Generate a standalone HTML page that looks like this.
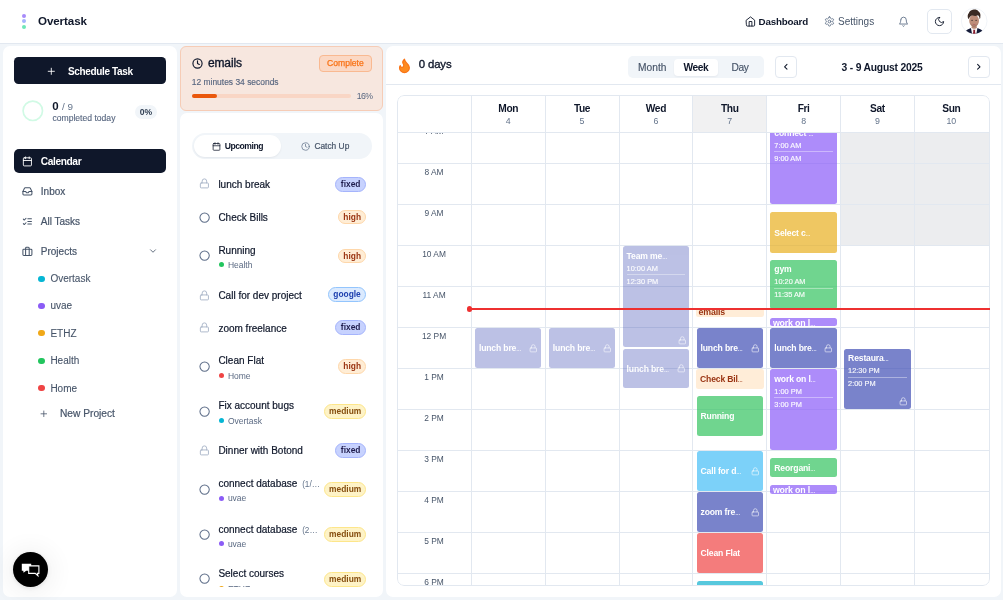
<!DOCTYPE html>
<html lang="en">
<head>
<meta charset="utf-8">
<title>Overtask</title>
<style>
*{box-sizing:border-box;margin:0;padding:0}
html,body{width:1003px;height:600px;overflow:hidden;background:#f1f5f9;font-family:"Liberation Sans",sans-serif;color:#0f172a}
#app{position:relative;width:1003px;height:600px;overflow:hidden;background:#f1f5f9;will-change:transform;transform:translateZ(0)}
.abs{position:absolute}
.t{position:absolute;white-space:nowrap;line-height:1}
svg{display:block;overflow:visible}
.ic{position:absolute;fill:none;stroke:currentColor;stroke-width:2;stroke-linecap:round;stroke-linejoin:round}
.card{position:absolute;background:#fff;border-radius:7px}
/* header */
#hdr{position:absolute;left:0;top:0;width:1003px;height:44px;background:#fff;border-bottom:1px solid #e2e8f0}
/* sidebar */
.navtxt{color:#475569;font-size:10px}
.proj{color:#475569;font-size:10px;margin-top:.4px;-webkit-text-stroke:.1px #475569}
.dot{position:absolute;border-radius:50%}
/* tasks */
.tk{font-size:10px;color:#0f172a;-webkit-text-stroke:.2px #0f172a;margin-top:1px}
.sub{font-size:8.5px;color:#5b6a83;margin-top:.8px}
.pill{position:absolute;border-radius:8px;border:1px solid;font-size:8.4px;font-weight:700;text-align:center;white-space:nowrap}
.pill.fixed{background:#c7d2fe;border-color:#a5b4fc;color:#1e1b4b}
.pill.high{background:#ffedd5;border-color:#fed7aa;color:#9a3412}
.pill.google{background:#dbeafe;border-color:#93c5fd;color:#1e40af}
.pill.medium{background:#fef3c7;border-color:#fde68a;color:#854d0e}
.lk{color:#aab6c9;stroke-width:2.1}
.cir{color:#5d6d88;stroke-width:2.2}

/*CALCSS*/
.ev{position:absolute;border-radius:2.500px;overflow:hidden}
.et{font-size:8.600px;font-weight:700;letter-spacing:-.15px}
.em{font-size:7.400px;opacity:.95;-webkit-text-stroke:.15px currentColor}
.el{font-size:58%;letter-spacing:-.2px}
.hlab{text-align:center;font-size:8.400px;color:#475569}
.dh{text-align:center;font-size:10.200px;font-weight:700;letter-spacing:-.4px}
.dn{text-align:center;font-size:8.800px;color:#64748b}
/*ENDCALCSS*/</style>
</head>
<body>
<div id="app">

<!-- ================= HEADER ================= -->
<div id="hdr">
  <div class="dot" style="left:22px;top:13.6px;width:4px;height:4px;background:#a78bfa"></div>
  <div class="dot" style="left:21.800px;top:18.800px;width:4.400px;height:4.400px;background:#a5b4fc"></div>
  <div class="dot" style="left:22px;top:24.8px;width:4px;height:4px;background:#6ee7b7"></div>
  <div class="t" id="brand" style="left:38px;top:15.4px;font-size:11.6px;font-weight:700;letter-spacing:-.1px">Overtask</div>

  <svg class="ic" viewBox="0 0 24 24" style="left:744.5px;top:15.6px;width:11px;height:11px;color:#0f172a"><path d="m3 9 9-7 9 7v11a2 2 0 0 1-2 2H5a2 2 0 0 1-2-2z"/><polyline points="9 22 9 12 15 12 15 22"/></svg>
  <div class="t" id="dash" style="left:758.6px;top:16.6px;font-size:9.8px;font-weight:700;letter-spacing:-.2px">Dashboard</div>
  <svg class="ic" viewBox="0 0 24 24" style="left:824px;top:15.8px;width:11px;height:11px;color:#64748b"><path d="M12.22 2h-.44a2 2 0 0 0-2 2v.18a2 2 0 0 1-1 1.73l-.43.25a2 2 0 0 1-2 0l-.15-.08a2 2 0 0 0-2.73.73l-.22.38a2 2 0 0 0 .73 2.73l.15.1a2 2 0 0 1 1 1.72v.51a2 2 0 0 1-1 1.74l-.15.09a2 2 0 0 0-.73 2.73l.22.38a2 2 0 0 0 2.73.73l.15-.08a2 2 0 0 1 2 0l.43.25a2 2 0 0 1 1 1.73V20a2 2 0 0 0 2 2h.44a2 2 0 0 0 2-2v-.18a2 2 0 0 1 1-1.73l.43-.25a2 2 0 0 1 2 0l.15.08a2 2 0 0 0 2.73-.73l.22-.39a2 2 0 0 0-.73-2.73l-.15-.08a2 2 0 0 1-1-1.74v-.5a2 2 0 0 1 1-1.74l.15-.09a2 2 0 0 0 .73-2.73l-.22-.38a2 2 0 0 0-2.73-.73l-.15.08a2 2 0 0 1-2 0l-.43-.25a2 2 0 0 1-1-1.73V4a2 2 0 0 0-2-2z"/><circle cx="12" cy="12" r="3"/></svg>
  <div class="t" id="sett" style="left:838px;top:16.6px;font-size:10px;color:#475569">Settings</div>
  <svg class="ic" viewBox="0 0 24 24" style="left:898.3px;top:15.6px;width:11px;height:11.5px;color:#64748b"><path d="M6 8a6 6 0 0 1 12 0c0 7 3 9 3 9H3s3-2 3-9"/><path d="M10.3 21a1.94 1.94 0 0 0 3.4 0"/></svg>
  <div class="abs" style="left:927px;top:9px;width:24.5px;height:24.5px;border:1px solid #e2e8f0;border-radius:5px;background:#fff"></div>
  <svg class="ic" viewBox="0 0 24 24" style="left:933.6px;top:15.8px;width:11px;height:11px;color:#0f172a"><path d="M12 3a6 6 0 0 0 9 9 9 9 0 1 1-9-9Z"/></svg>
  <!-- avatar -->
  <svg class="abs" viewBox="0 0 52 52" style="left:961.400px;top:8.200px;width:26.400px;height:26.200px">
    <defs><clipPath id="avc"><circle cx="26" cy="26" r="25"/></clipPath></defs>
    <circle cx="26" cy="26" r="25.500" fill="#fff" stroke="#e2e8f0" stroke-width="1"/>
    <g clip-path="url(#avc)">
      <path d="M7 54c.5-7 3-11 8-12.500l6-2.500h10l6 2.500c5 1.500 7.500 5.500 8 12.500z" fill="#141b38"/>
      <path d="M19.500 39.500l6.500-1.500 6.500 1.500-2.500 13h-8z" fill="#fbfaf8"/>
      <path d="M23.800 43.200h4.400l-.6 2.600 1.200 7h-5.600l1.200-7z" fill="#8a1c2e"/>
      <path d="M21 31h10v8.500c-2 2.200-8 2.200-10 0z" fill="#b98873"/>
      <ellipse cx="25.800" cy="25.500" rx="9.700" ry="12" fill="#bd8e7a"/>
      <path d="M18 30c1.500 5 4.500 7.600 7.800 7.600s6.300-2.600 7.800-7.600c-1.600 3-4.400 4.600-7.800 4.600S19.600 33 18 30z" fill="#8d6757" opacity=".55"/>
      <ellipse cx="21.800" cy="24.200" rx="1.900" ry="1" fill="#4a3a36"/>
      <ellipse cx="29.900" cy="24.200" rx="1.900" ry="1" fill="#4a3a36"/>
      <path d="M23.600 32.600q2.200 1 4.400 0" stroke="#a8545a" stroke-width="1.200" fill="none" stroke-linecap="round"/>
      <path d="M14.600 22.500c-2.400-4.500-1.800-9.500.8-12.400 1-3.400 4.600-6.400 9.600-6.900 3.800-.5 7.600.8 9.800 3.600 3 2 4.400 6 3.400 10.200.4 2.400-.4 4.200-1.400 5.500.2-3.600-1.200-6.400-3.200-8-2.800 1.400-6.800 1.600-10 .6-2.600-.2-5 1.200-6.600 3.400-.9 1.200-1.700 2.400-2.400 4z" fill="#3a2a23"/>
    </g>
  </svg>
</div>

<!-- ================= SIDEBAR ================= -->
<div class="card" id="side" style="left:2.600px;top:46px;width:174.400px;height:551px"></div>
<div class="abs" style="left:13.600px;top:57.200px;width:152.600px;height:27px;border-radius:4.500px;background:#0f172a"></div>
<svg class="ic" viewBox="0 0 24 24" style="left:45.800px;top:65.600px;width:10.600px;height:10.600px;color:#fff"><path d="M5 12h14"/><path d="M12 5v14"/></svg>
<div class="t" id="sched" style="left:68px;top:66.500px;font-size:10px;font-weight:700;color:#fff;letter-spacing:-.36px">Schedule Task</div>

<svg class="abs" viewBox="0 0 22 22" style="left:22.200px;top:100.200px;width:21.600px;height:21.600px"><circle cx="11" cy="11" r="9.900" fill="none" stroke="#d1fae5" stroke-width="1.700"/></svg>
<div class="t" id="cnt0" style="left:52.300px;top:100.800px;font-size:11.500px;font-weight:700">0</div>
<div class="t" id="cnt9" style="left:62px;top:101.800px;font-size:9.900px;color:#64748b">/ 9</div>
<div class="t" id="ctoday" style="left:52.400px;top:113.800px;font-size:8.600px;color:#586780;-webkit-text-stroke:.12px #586780">completed today</div>
<div class="abs" style="left:135px;top:105px;width:22.400px;height:14.200px;border-radius:7.100px;background:#f1f5f9"></div>
<div class="t" id="pct0" style="left:139.800px;top:108.200px;font-size:8.600px;font-weight:700;color:#334155;letter-spacing:-.1px">0%</div>

<div class="abs" style="left:13.600px;top:149px;width:152.600px;height:24.200px;border-radius:5px;background:#0f172a"></div>
<svg class="ic" viewBox="0 0 24 24" style="left:21.600px;top:155.600px;width:10.800px;height:10.800px;color:#fff"><path d="M8 2v4"/><path d="M16 2v4"/><rect width="18" height="18" x="3" y="4" rx="2"/><path d="M3 10h18"/></svg>
<div class="t" id="ncal" style="left:40.800px;top:156.600px;font-size:10.200px;font-weight:700;color:#fff;letter-spacing:-.4px">Calendar</div>

<svg class="ic" viewBox="0 0 24 24" style="left:21.600px;top:185.600px;width:10.800px;height:10.800px;color:#475569;stroke-width:2.300"><polyline points="22 12 16 12 14 15 10 15 8 12 2 12"/><path d="M5.450 5.110 2 12v6a2 2 0 0 0 2 2h16a2 2 0 0 0 2-2v-6l-3.450-6.890A2 2 0 0 0 16.760 4H7.240a2 2 0 0 0-1.790 1.110z"/></svg>
<div class="t navtxt" id="ninb" style="left:40.800px;top:186.600px;-webkit-text-stroke:.2px #475569">Inbox</div>

<svg class="ic" viewBox="0 0 24 24" style="left:21.600px;top:215.600px;width:10.800px;height:10.800px;color:#475569;stroke-width:2.300"><path d="m3 17 2 2 4-4"/><path d="m3 7 2 2 4-4"/><path d="M13 6h8"/><path d="M13 12h8"/><path d="M13 18h8"/></svg>
<div class="t navtxt" id="nall" style="left:40.800px;top:217px;-webkit-text-stroke:.2px #475569">All Tasks</div>

<svg class="ic" viewBox="0 0 24 24" style="left:21.600px;top:245.600px;width:10.800px;height:10.800px;color:#475569;stroke-width:2.300"><rect width="20" height="14" x="2" y="7" rx="2" ry="2"/><path d="M16 21V5a2 2 0 0 0-2-2h-4a2 2 0 0 0-2 2v16"/></svg>
<div class="t navtxt" id="nprj" style="left:40.800px;top:247.300px;-webkit-text-stroke:.2px #475569">Projects</div>
<svg class="ic" viewBox="0 0 24 24" style="left:148px;top:246px;width:10px;height:10px;color:#475569"><path d="m6 9 6 6 6-6"/></svg>

<div class="dot" style="left:38.400px;top:275.600px;width:6.200px;height:6.200px;background:#06b6d4"></div>
<div class="t proj" style="left:50.400px;top:274px">Overtask</div>
<div class="dot" style="left:38.400px;top:302.600px;width:6.200px;height:6.200px;background:#8b5cf6"></div>
<div class="t proj" style="left:50.400px;top:301px">uvae</div>
<div class="dot" style="left:38.400px;top:330.100px;width:6.200px;height:6.200px;background:#f0a818"></div>
<div class="t proj" style="left:50.400px;top:328.600px">ETHZ</div>
<div class="dot" style="left:38.400px;top:357.500px;width:6.200px;height:6.200px;background:#22c55e"></div>
<div class="t proj" style="left:50.400px;top:356px">Health</div>
<div class="dot" style="left:38.400px;top:384.900px;width:6.200px;height:6.200px;background:#ef4444"></div>
<div class="t proj" style="left:50.400px;top:383.200px">Home</div>
<svg class="ic" viewBox="0 0 24 24" style="left:38.800px;top:408.600px;width:9.600px;height:9.600px;color:#475569"><path d="M5 12h14"/><path d="M12 5v14"/></svg>
<div class="t proj" id="newp" style="left:60px;top:408.600px;font-size:10.200px;-webkit-text-stroke:.2px #475569">New Project</div>

<!-- chat bubble -->
<div class="abs" style="left:13px;top:551.700px;width:35.300px;height:35.300px;border-radius:50%;background:#000;box-shadow:0 2px 22px 8px rgba(0,0,0,.045),0 1px 4px rgba(0,0,0,.10)"></div>
<svg class="abs" viewBox="0 0 22 16" style="left:20px;top:562px;width:22px;height:16px">
  <path d="M1.800 1.800h9.400v7H6.200L3.500 10.800 3.300 8.800H1.800z" fill="#fff"/>
  <path d="M8.700 3.900h10.200v7.500h-1.500l.5 2.300-2.700-2.300H8.700z" fill="#000" stroke="#fff" stroke-width="1.100" stroke-linejoin="miter"/>
</svg>

<!-- ================= MIDDLE: current task ================= -->
<div class="abs" id="cur" style="left:180.300px;top:46px;width:202.500px;height:64.600px;border-radius:6px;background:#f7e7df;border:1px solid #f6ccb6"></div>
<svg class="ic" viewBox="0 0 24 24" style="left:191.600px;top:58.200px;width:11px;height:11px;color:#0f172a;stroke-width:2.500"><circle cx="12" cy="12" r="10"/><polyline points="12 6 12 12 16 14"/></svg>
<div class="t" id="curt" style="left:208px;top:57px;font-size:12px;-webkit-text-stroke:.35px #0f172a;letter-spacing:-.15px">emails</div>
<div class="abs" style="left:319px;top:55.300px;width:52.800px;height:16.600px;border-radius:4px;background:#fbd8c4;border:1px solid #f9b991"></div>
<div class="t" id="cmpl" style="left:327px;top:59.400px;font-size:8.600px;color:#f97316;-webkit-text-stroke:.25px #f97316">Complete</div>
<div class="t" id="curs" style="left:191.800px;top:78.400px;font-size:8.450px;color:#586780;-webkit-text-stroke:.15px #586780">12 minutes 34 seconds</div>
<div class="abs" style="left:191.800px;top:94.400px;width:159.200px;height:4px;border-radius:2px;background:#f9d6c5"></div>
<div class="abs" style="left:191.800px;top:94.400px;width:25.400px;height:4px;border-radius:2px;background:#ea580c"></div>
<div class="t" id="p16" style="left:356.800px;top:91.800px;font-size:8.700px;color:#586780;letter-spacing:-.55px">16%</div>

<!-- ================= MIDDLE: task list ================= -->
<div class="card" id="tl" style="left:180.300px;top:113px;width:203px;height:484px"></div>
<div class="abs" style="left:191.800px;top:132.800px;width:180.400px;height:26.600px;border-radius:13.300px;background:#f1f5f9"></div>
<div class="abs" style="left:193.700px;top:135px;width:87.800px;height:22.200px;border-radius:11.100px;background:#fff;box-shadow:0 1px 2px rgba(15,23,42,.06)"></div>
<svg class="ic" viewBox="0 0 24 24" style="left:211.600px;top:141.600px;width:9px;height:9px;color:#0f172a"><path d="M8 2v4"/><path d="M16 2v4"/><rect width="18" height="18" x="3" y="4" rx="2"/><path d="M3 10h18"/></svg>
<div class="t" id="tup" style="left:224.700px;top:141.800px;font-size:8.600px;font-weight:700;letter-spacing:-.45px">Upcoming</div>
<svg class="ic" viewBox="0 0 24 24" style="left:301px;top:141.600px;width:9px;height:9px;color:#64748b"><circle cx="12" cy="12" r="10"/><polyline points="12 6 12 12 16 14"/></svg>
<div class="t" id="tcu" style="left:314.400px;top:141.800px;font-size:8.400px;color:#475569;-webkit-text-stroke:.2px #475569">Catch Up</div>

<div id="rows" class="abs" style="left:180.300px;top:113px;width:203px;height:473.700px;overflow:hidden">
<div class="abs" style="left:-180.300px;top:-113px;width:1003px;height:600px">

<svg class="ic lk" viewBox="0 0 24 24" style="left:199.100px;top:178.300px;width:10.800px;height:10.800px"><rect width="18" height="11" x="3" y="11" rx="2" ry="2"/><path d="M7 11V7a5 5 0 0 1 10 0v4"/></svg>
<div class="t tk" style="left:218.400px;top:179.400px">lunch break</div>
<div class="pill fixed" style="left:334.800px;top:176.800px;width:31.700px;height:15.100px;line-height:13.100px">fixed</div>

<svg class="ic cir" viewBox="0 0 24 24" style="left:199.300px;top:211.500px;width:11.200px;height:11.200px"><circle cx="12" cy="12" r="10"/></svg>
<div class="t tk" style="left:218.400px;top:212.300px">Check Bills</div>
<div class="pill high" style="left:337.900px;top:209.600px;width:28.600px;height:14.800px;line-height:12.900px">high</div>

<svg class="ic cir" viewBox="0 0 24 24" style="left:199.300px;top:250.400px;width:11.200px;height:11.200px"><circle cx="12" cy="12" r="10"/></svg>
<div class="t tk" style="left:218.400px;top:244.800px">Running</div>
<div class="dot" style="left:218.500px;top:262.100px;width:5px;height:5px;background:#22c55e"></div>
<div class="t sub" style="left:227.900px;top:260.300px">Health</div>
<div class="pill high" style="left:337.900px;top:248.600px;width:28.600px;height:14.800px;line-height:12.900px">high</div>

<svg class="ic lk" viewBox="0 0 24 24" style="left:199.100px;top:289.600px;width:10.800px;height:10.800px"><rect width="18" height="11" x="3" y="11" rx="2" ry="2"/><path d="M7 11V7a5 5 0 0 1 10 0v4"/></svg>
<div class="t tk" style="left:218.400px;top:289.900px">Call for dev project</div>
<div class="pill google" style="left:327.600px;top:287.300px;width:38.900px;height:15.100px;line-height:13.100px">google</div>

<svg class="ic lk" viewBox="0 0 24 24" style="left:199.100px;top:322.300px;width:10.800px;height:10.800px"><rect width="18" height="11" x="3" y="11" rx="2" ry="2"/><path d="M7 11V7a5 5 0 0 1 10 0v4"/></svg>
<div class="t tk" style="left:218.400px;top:322.800px">zoom freelance</div>
<div class="pill fixed" style="left:334.800px;top:319.900px;width:31.700px;height:15.100px;line-height:13.100px">fixed</div>

<svg class="ic cir" viewBox="0 0 24 24" style="left:199.300px;top:360.900px;width:11.200px;height:11.200px"><circle cx="12" cy="12" r="10"/></svg>
<div class="t tk" style="left:218.400px;top:355.400px">Clean Flat</div>
<div class="dot" style="left:218.500px;top:372.900px;width:5px;height:5px;background:#ef4444"></div>
<div class="t sub" style="left:227.900px;top:371.100px">Home</div>
<div class="pill high" style="left:337.900px;top:359px;width:28.600px;height:14.800px;line-height:12.900px">high</div>

<svg class="ic cir" viewBox="0 0 24 24" style="left:199.300px;top:406.000px;width:11.200px;height:11.200px"><circle cx="12" cy="12" r="10"/></svg>
<div class="t tk" style="left:218.400px;top:400.300px">Fix account bugs</div>
<div class="dot" style="left:218.500px;top:417.900px;width:5px;height:5px;background:#06b6d4"></div>
<div class="t sub" style="left:227.900px;top:416px">Overtask</div>
<div class="pill medium" style="left:323.800px;top:404.300px;width:42.700px;height:14.800px;line-height:12.900px">medium</div>

<svg class="ic lk" viewBox="0 0 24 24" style="left:199.100px;top:445.300px;width:10.800px;height:10.800px"><rect width="18" height="11" x="3" y="11" rx="2" ry="2"/><path d="M7 11V7a5 5 0 0 1 10 0v4"/></svg>
<div class="t tk" style="left:218.400px;top:445.400px">Dinner with Botond</div>
<div class="pill fixed" style="left:334.800px;top:443px;width:31.700px;height:15.100px;line-height:13.100px">fixed</div>

<svg class="ic cir" viewBox="0 0 24 24" style="left:199.300px;top:483.600px;width:11.200px;height:11.200px"><circle cx="12" cy="12" r="10"/></svg>
<div class="t tk" style="left:218.400px;top:478.400px">connect database <span style="font-size:8.200px;color:#64748b;-webkit-text-stroke:0;margin-left:2px">(1/…</span></div>
<div class="dot" style="left:218.500px;top:495.700px;width:5px;height:5px;background:#8b5cf6"></div>
<div class="t sub" style="left:227.900px;top:493.600px">uvae</div>
<div class="pill medium" style="left:323.800px;top:481.900px;width:42.700px;height:14.800px;line-height:12.900px">medium</div>

<svg class="ic cir" viewBox="0 0 24 24" style="left:199.300px;top:528.800px;width:11.200px;height:11.200px"><circle cx="12" cy="12" r="10"/></svg>
<div class="t tk" style="left:218.400px;top:523.600px">connect database <span style="font-size:8.200px;color:#64748b;-webkit-text-stroke:0;margin-left:2px">(2…</span></div>
<div class="dot" style="left:218.500px;top:540.900px;width:5px;height:5px;background:#8b5cf6"></div>
<div class="t sub" style="left:227.900px;top:538.900px">uvae</div>
<div class="pill medium" style="left:323.800px;top:527.100px;width:42.700px;height:14.800px;line-height:12.900px">medium</div>

<svg class="ic cir" viewBox="0 0 24 24" style="left:199.300px;top:573.400px;width:11.200px;height:11.200px"><circle cx="12" cy="12" r="10"/></svg>
<div class="t tk" style="left:218.400px;top:568.300px">Select courses</div>
<div class="dot" style="left:218.500px;top:585.800px;width:5px;height:5px;background:#f0a818"></div>
<div class="t sub" style="left:227.900px;top:583.800px">ETHZ</div>
<div class="pill medium" style="left:323.800px;top:572.300px;width:42.700px;height:14.800px;line-height:12.900px">medium</div>

</div>
</div>

<!--MIDDLE-->
<!-- ================= CALENDAR ================= -->
<div class="card" id="calcard" style="left:386px;top:46px;width:615px;height:551px"></div>
<div class="abs" style="left:386px;top:83.600px;width:615px;height:1px;background:#e2e8f0"></div>
<svg class="abs" viewBox="0 0 24 24" preserveAspectRatio="none" style="left:396.200px;top:56.500px;width:16.900px;height:17.100px"><path d="M8.500 14.500A2.500 2.500 0 0 0 11 12c0-1.380-.5-2-1-3-1.072-2.143-.224-4.054 2-6 .5 2.500 2 4.900 4 6.500 2 1.600 3 3.500 3 5.500a7 7 0 1 1-14 0c0-1.153.433-2.294 1-3a2.500 2.500 0 0 0 2.500 2.500z" fill="#fd8b20" stroke="#f97316" stroke-width="1.600" stroke-linejoin="round"/></svg>
<div class="t" id="days" style="left:418.800px;top:59px;font-size:11.400px;-webkit-text-stroke:.35px #0f172a;letter-spacing:-.15px">0 days</div>
<div class="abs" style="left:628px;top:56.400px;width:136px;height:21.300px;border-radius:5px;background:#f1f5f9"></div>
<div class="abs" style="left:674px;top:59px;width:44px;height:16.600px;border-radius:4px;background:#fff;box-shadow:0 1px 2px rgba(15,23,42,.05)"></div>
<div class="t" id="vm" style="left:638px;top:63.200px;font-size:10.200px;color:#475569;letter-spacing:.05px;-webkit-text-stroke:.15px #475569">Month</div>
<div class="t" id="vw" style="left:683.500px;top:63.200px;font-size:10.200px;font-weight:700;letter-spacing:-.45px">Week</div>
<div class="t" id="vd" style="left:731.400px;top:63.200px;font-size:10.200px;color:#475569;letter-spacing:-.3px;-webkit-text-stroke:.15px #475569">Day</div>
<div class="abs" style="left:775.400px;top:56.400px;width:21.300px;height:21.300px;border-radius:4px;background:#fff;border:1px solid #e2e8f0"></div>
<svg class="ic" viewBox="0 0 24 24" style="left:781.200px;top:62.200px;width:9.600px;height:9.600px;color:#0f172a;stroke-width:2.600"><path d="m15 18-6-6 6-6"/></svg>
<div class="t" id="rng" style="left:841.600px;top:63px;font-size:10.300px;font-weight:700;letter-spacing:-.2px">3 - 9 August 2025</div>
<div class="abs" style="left:968px;top:56.400px;width:21.600px;height:21.300px;border-radius:4px;background:#fff;border:1px solid #e2e8f0"></div>
<svg class="ic" viewBox="0 0 24 24" style="left:973.800px;top:62.200px;width:9.600px;height:9.600px;color:#0f172a;stroke-width:2.600"><path d="m9 18 6-6-6-6"/></svg>
<div id="grid" class="abs" style="left:396.8px;top:95.2px;width:592.9px;height:490.8px;border-radius:7px;overflow:hidden;background:#fff">
<div class="abs" style="left:-396.8px;top:-95.2px;width:1003px;height:600px">
<div class="abs" id="gbody" style="left:0;top:132.0px;width:1003px;height:468.0px;overflow:hidden"><div class="abs" style="left:0;top:-132.0px;width:1003px;height:600px">
<div class="abs" style="left:840.5px;top:132.0px;width:149.2px;height:113.2px;background:#ecedef"></div>
<div class="abs hl" style="left:396.8px;top:121.7px;width:592.9px;height:1px;background:#e2e8f0"></div>
<div class="abs hl" style="left:396.8px;top:162.7px;width:592.9px;height:1px;background:#e2e8f0"></div>
<div class="abs hl" style="left:396.8px;top:203.7px;width:592.9px;height:1px;background:#e2e8f0"></div>
<div class="abs hl" style="left:396.8px;top:244.7px;width:592.9px;height:1px;background:#e2e8f0"></div>
<div class="abs hl" style="left:396.8px;top:285.7px;width:592.9px;height:1px;background:#e2e8f0"></div>
<div class="abs hl" style="left:396.8px;top:326.7px;width:592.9px;height:1px;background:#e2e8f0"></div>
<div class="abs hl" style="left:396.8px;top:367.7px;width:592.9px;height:1px;background:#e2e8f0"></div>
<div class="abs hl" style="left:396.8px;top:408.7px;width:592.9px;height:1px;background:#e2e8f0"></div>
<div class="abs hl" style="left:396.8px;top:449.7px;width:592.9px;height:1px;background:#e2e8f0"></div>
<div class="abs hl" style="left:396.8px;top:490.7px;width:592.9px;height:1px;background:#e2e8f0"></div>
<div class="abs hl" style="left:396.8px;top:531.7px;width:592.9px;height:1px;background:#e2e8f0"></div>
<div class="abs hl" style="left:396.8px;top:572.7px;width:592.9px;height:1px;background:#e2e8f0"></div>
<div class="abs" style="left:470.8px;top:95.2px;width:1px;height:490.8px;background:#e2e8f0"></div>
<div class="abs" style="left:544.6px;top:95.2px;width:1px;height:490.8px;background:#e2e8f0"></div>
<div class="abs" style="left:618.5px;top:95.2px;width:1px;height:490.8px;background:#e2e8f0"></div>
<div class="abs" style="left:692.4px;top:95.2px;width:1px;height:490.8px;background:#e2e8f0"></div>
<div class="abs" style="left:766.2px;top:95.2px;width:1px;height:490.8px;background:#e2e8f0"></div>
<div class="abs" style="left:840.0px;top:95.2px;width:1px;height:490.8px;background:#e2e8f0"></div>
<div class="abs" style="left:913.9px;top:95.2px;width:1px;height:490.8px;background:#e2e8f0"></div>
<div class="t hlab" style="left:396.8px;width:74.5px;top:126.8px">7 AM</div>
<div class="t hlab" style="left:396.8px;width:74.5px;top:167.8px">8 AM</div>
<div class="t hlab" style="left:396.8px;width:74.5px;top:208.8px">9 AM</div>
<div class="t hlab" style="left:396.8px;width:74.5px;top:249.8px">10 AM</div>
<div class="t hlab" style="left:396.8px;width:74.5px;top:290.8px">11 AM</div>
<div class="t hlab" style="left:396.8px;width:74.5px;top:331.8px">12 PM</div>
<div class="t hlab" style="left:396.8px;width:74.5px;top:372.8px">1 PM</div>
<div class="t hlab" style="left:396.8px;width:74.5px;top:413.8px">2 PM</div>
<div class="t hlab" style="left:396.8px;width:74.5px;top:454.8px">3 PM</div>
<div class="t hlab" style="left:396.8px;width:74.5px;top:495.8px">4 PM</div>
<div class="t hlab" style="left:396.8px;width:74.5px;top:536.8px">5 PM</div>
<div class="t hlab" style="left:396.8px;width:74.5px;top:577.8px">6 PM</div>
<div class="ev" style="left:474.9px;top:328.2px;width:66.6px;height:39.4px;background:rgba(64,78,181,.7);color:#fff;opacity:.5"><div class="t et" style="left:4px;top:16.1px">lunch bre<span class="el">…</span></div><svg class="ic" viewBox="0 0 24 24" style="right:4px;top:15.4px;width:8.600px;height:8.600px;color:rgba(255,255,255,.82);stroke-width:1.900"><rect width="18" height="11" x="3" y="11" rx="2" ry="2"/><path d="M7 11V7a5 5 0 0 1 10 0v4"/></svg></div>
<div class="ev" style="left:548.8px;top:328.2px;width:66.6px;height:39.4px;background:rgba(64,78,181,.7);color:#fff;opacity:.5"><div class="t et" style="left:4px;top:16.1px">lunch bre<span class="el">…</span></div><svg class="ic" viewBox="0 0 24 24" style="right:4px;top:15.4px;width:8.600px;height:8.600px;color:rgba(255,255,255,.82);stroke-width:1.900"><rect width="18" height="11" x="3" y="11" rx="2" ry="2"/><path d="M7 11V7a5 5 0 0 1 10 0v4"/></svg></div>
<div class="ev" style="left:622.6px;top:246.2px;width:66.6px;height:100.9px;background:rgba(64,78,181,.7);color:#fff;opacity:.5"><div class="t et" style="left:4px;top:5.600px">Team me<span class="el">…</span></div><div class="t em" style="left:4px;top:18.400px">10:00 AM</div><div class="abs" style="left:4px;right:4px;top:28.300px;height:1px;background:rgba(255,255,255,.38)"></div><div class="t em" style="left:4px;top:31.600px">12:30 PM</div><svg class="ic" viewBox="0 0 24 24" style="right:2.800px;bottom:2.600px;width:8.600px;height:8.600px;color:rgba(255,255,255,.82);stroke-width:1.900"><rect width="18" height="11" x="3" y="11" rx="2" ry="2"/><path d="M7 11V7a5 5 0 0 1 10 0v4"/></svg></div>
<div class="ev" style="left:622.6px;top:348.7px;width:66.6px;height:39.4px;background:rgba(64,78,181,.7);color:#fff;opacity:.5"><div class="t et" style="left:4px;top:16.1px">lunch bre<span class="el">…</span></div><svg class="ic" viewBox="0 0 24 24" style="right:4px;top:15.4px;width:8.600px;height:8.600px;color:rgba(255,255,255,.82);stroke-width:1.900"><rect width="18" height="11" x="3" y="11" rx="2" ry="2"/><path d="M7 11V7a5 5 0 0 1 10 0v4"/></svg></div>
<div class="ev" style="left:696.0px;top:308.1px;width:67.6px;height:9.2px;background:#ffedd8;color:#9a3412"><div class="t et" style="left:2.600px;top:-0.4px;font-size:8.800px">emails</div></div>
<div class="ev" style="left:696.5px;top:328.2px;width:66.6px;height:39.4px;background:rgba(64,78,181,.7);color:#fff"><div class="t et" style="left:4px;top:16.1px">lunch bre<span class="el">…</span></div><svg class="ic" viewBox="0 0 24 24" style="right:4px;top:15.4px;width:8.600px;height:8.600px;color:rgba(255,255,255,.82);stroke-width:1.900"><rect width="18" height="11" x="3" y="11" rx="2" ry="2"/><path d="M7 11V7a5 5 0 0 1 10 0v4"/></svg></div>
<div class="ev" style="left:696.0px;top:369.2px;width:67.6px;height:19.9px;background:#ffedd8;color:#9a3412"><div class="t et" style="left:4px;top:6.3px">Check Bil<span class="el">…</span></div></div>
<div class="ev" style="left:696.5px;top:395.9px;width:66.6px;height:40.0px;background:rgba(51,195,96,.7);color:#fff"><div class="t et" style="left:4px;top:16.4px">Running</div></div>
<div class="ev" style="left:696.5px;top:451.2px;width:66.6px;height:39.4px;background:rgba(69,189,246,.7);color:#fff"><div class="t et" style="left:4px;top:16.1px">Call for d<span class="el">…</span></div><svg class="ic" viewBox="0 0 24 24" style="right:4px;top:15.4px;width:8.600px;height:8.600px;color:rgba(255,255,255,.82);stroke-width:1.900"><rect width="18" height="11" x="3" y="11" rx="2" ry="2"/><path d="M7 11V7a5 5 0 0 1 10 0v4"/></svg></div>
<div class="ev" style="left:696.5px;top:492.2px;width:66.6px;height:39.4px;background:rgba(64,78,181,.7);color:#fff"><div class="t et" style="left:4px;top:16.1px">zoom fre<span class="el">…</span></div><svg class="ic" viewBox="0 0 24 24" style="right:4px;top:15.4px;width:8.600px;height:8.600px;color:rgba(255,255,255,.82);stroke-width:1.900"><rect width="18" height="11" x="3" y="11" rx="2" ry="2"/><path d="M7 11V7a5 5 0 0 1 10 0v4"/></svg></div>
<div class="ev" style="left:696.5px;top:533.2px;width:66.6px;height:39.4px;background:rgba(239,69,68,.7);color:#fff"><div class="t et" style="left:4px;top:16.1px">Clean Flat</div></div>
<div class="ev" style="left:696.5px;top:581.0px;width:66.6px;height:39.4px;background:rgba(16,176,206,.7);color:#fff"><div class="t et" style="left:4px;top:16.1px">Dinner wi<span class="el">…</span></div></div>
<div class="ev" style="left:770.3px;top:123.2px;width:66.6px;height:80.4px;background:rgba(138,91,248,.7);color:#fff"><div class="t et" style="left:4px;top:5.600px">connect <span class="el">…</span></div><div class="t em" style="left:4px;top:18.400px">7:00 AM</div><div class="abs" style="left:4px;right:4px;top:28.300px;height:1px;background:rgba(255,255,255,.38)"></div><div class="t em" style="left:4px;top:31.600px">9:00 AM</div></div>
<div class="ev" style="left:770.3px;top:212.0px;width:66.6px;height:40.5px;background:rgba(232,175,32,.7);color:#fff"><div class="t et" style="left:4px;top:16.6px">Select c<span class="el">…</span></div></div>
<div class="ev" style="left:770.3px;top:259.9px;width:66.6px;height:49.6px;background:rgba(51,195,96,.7);color:#fff"><div class="t et" style="left:4px;top:5.600px">gym</div><div class="t em" style="left:4px;top:18.400px">10:20 AM</div><div class="abs" style="left:4px;right:4px;top:28.300px;height:1px;background:rgba(255,255,255,.38)"></div><div class="t em" style="left:4px;top:31.600px">11:35 AM</div></div>
<div class="ev" style="left:770.3px;top:317.9px;width:66.6px;height:8.6px;background:rgba(138,91,248,.7);color:#fff"><div class="t et" style="left:2.600px;top:0.9px;font-size:8.800px">work on l<span class="el">…</span></div></div>
<div class="ev" style="left:770.3px;top:328.2px;width:66.6px;height:39.4px;background:rgba(64,78,181,.7);color:#fff"><div class="t et" style="left:4px;top:16.1px">lunch bre<span class="el">…</span></div><svg class="ic" viewBox="0 0 24 24" style="right:4px;top:15.4px;width:8.600px;height:8.600px;color:rgba(255,255,255,.82);stroke-width:1.900"><rect width="18" height="11" x="3" y="11" rx="2" ry="2"/><path d="M7 11V7a5 5 0 0 1 10 0v4"/></svg></div>
<div class="ev" style="left:770.3px;top:369.2px;width:66.6px;height:80.4px;background:rgba(138,91,248,.7);color:#fff"><div class="t et" style="left:4px;top:5.600px">work on l<span class="el">…</span></div><div class="t em" style="left:4px;top:18.400px">1:00 PM</div><div class="abs" style="left:4px;right:4px;top:28.300px;height:1px;background:rgba(255,255,255,.38)"></div><div class="t em" style="left:4px;top:31.600px">3:00 PM</div></div>
<div class="ev" style="left:770.3px;top:458.0px;width:66.6px;height:18.9px;background:rgba(51,195,96,.7);color:#fff"><div class="t et" style="left:4px;top:5.8px">Reorgani<span class="el">…</span></div></div>
<div class="ev" style="left:770.3px;top:485.4px;width:66.6px;height:8.6px;background:rgba(138,91,248,.7);color:#fff"><div class="t et" style="left:2.600px;top:0.9px;font-size:8.800px">work on l<span class="el">…</span></div></div>
<div class="ev" style="left:844.1px;top:348.7px;width:66.6px;height:59.9px;background:rgba(64,78,181,.7);color:#fff"><div class="t et" style="left:4px;top:5.600px">Restaura<span class="el">…</span></div><div class="t em" style="left:4px;top:18.400px">12:30 PM</div><div class="abs" style="left:4px;right:4px;top:28.300px;height:1px;background:rgba(255,255,255,.38)"></div><div class="t em" style="left:4px;top:31.600px">2:00 PM</div><svg class="ic" viewBox="0 0 24 24" style="right:2.800px;bottom:2.600px;width:8.600px;height:8.600px;color:rgba(255,255,255,.82);stroke-width:1.900"><rect width="18" height="11" x="3" y="11" rx="2" ry="2"/><path d="M7 11V7a5 5 0 0 1 10 0v4"/></svg></div>
</div></div>
<div class="abs" style="left:396.8px;top:95.2px;width:592.9px;height:36.8px;background:#fff"></div>
<div class="abs" style="left:692.9px;top:95.2px;width:73.8px;height:36.8px;background:#f1f1f2"></div>
<div class="abs" style="left:470.8px;top:95.2px;width:1px;height:36.8px;background:#e2e8f0"></div>
<div class="abs" style="left:544.6px;top:95.2px;width:1px;height:36.8px;background:#e2e8f0"></div>
<div class="abs" style="left:618.5px;top:95.2px;width:1px;height:36.8px;background:#e2e8f0"></div>
<div class="abs" style="left:692.4px;top:95.2px;width:1px;height:36.8px;background:#e2e8f0"></div>
<div class="abs" style="left:766.2px;top:95.2px;width:1px;height:36.8px;background:#e2e8f0"></div>
<div class="abs" style="left:840.0px;top:95.2px;width:1px;height:36.8px;background:#e2e8f0"></div>
<div class="abs" style="left:913.9px;top:95.2px;width:1px;height:36.8px;background:#e2e8f0"></div>
<div class="abs" style="left:396.8px;top:131.5px;width:592.9px;height:1px;background:#e2e8f0"></div>
<div class="t dh" style="left:471.3px;width:73.8px;top:104.1px">Mon</div>
<div class="t dn" style="left:471.3px;width:73.8px;top:116.6px">4</div>
<div class="t dh" style="left:545.1px;width:73.8px;top:104.1px">Tue</div>
<div class="t dn" style="left:545.1px;width:73.8px;top:116.6px">5</div>
<div class="t dh" style="left:619.0px;width:73.8px;top:104.1px">Wed</div>
<div class="t dn" style="left:619.0px;width:73.8px;top:116.6px">6</div>
<div class="t dh" style="left:692.9px;width:73.8px;top:104.1px">Thu</div>
<div class="t dn" style="left:692.9px;width:73.8px;top:116.6px">7</div>
<div class="t dh" style="left:766.7px;width:73.8px;top:104.1px">Fri</div>
<div class="t dn" style="left:766.7px;width:73.8px;top:116.6px">8</div>
<div class="t dh" style="left:840.5px;width:73.8px;top:104.1px">Sat</div>
<div class="t dn" style="left:840.5px;width:73.8px;top:116.6px">9</div>
<div class="t dh" style="left:914.4px;width:73.8px;top:104.1px">Sun</div>
<div class="t dn" style="left:914.4px;width:73.8px;top:116.6px">10</div>
</div>
<div class="abs" style="left:0;top:0;width:100%;height:100%;border:1px solid #e2e8f0;border-radius:7px;pointer-events:none"></div>
</div>
<div class="abs" style="left:469.200px;top:308.400px;width:520.5px;height:1.400px;background:#ee3030"></div>
<div class="dot" style="left:466.600px;top:306.400px;width:5.200px;height:5.200px;background:#ee3030"></div>
<!--CALENDAR-->
</div>
</body>
</html>
